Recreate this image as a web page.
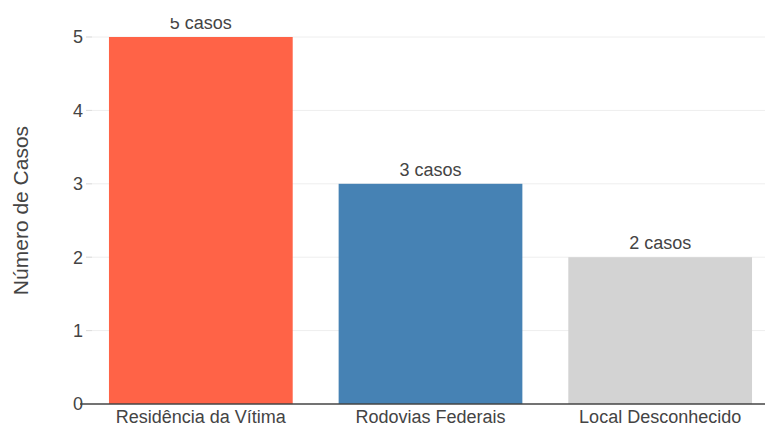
<!DOCTYPE html>
<html>
<head>
<meta charset="utf-8">
<script src="https://cdn.jsdelivr.net/npm/d3@7"></script>
<style>
  body { margin: 0; background: #fff; }
  svg { display: block; font-family: "Liberation Sans", Arial, sans-serif; }
</style>
</head>
<body>
<div id="chart"></div>
<script>
const categories = ["Residência da Vítima", "Rodovias Federais", "Local Desconhecido"];
const values = [5, 3, 2];
const colors = ["#FF6347", "#4682B4", "#D3D3D3"];
const yTicks = [0, 1, 2, 3, 4, 5];

const width = 765;
const height = 425;
const margin = { left: 86, right: -10, top: 37, bottom: 21 };

const svg = d3
  .select("#chart")
  .append("svg")
  .attr("width", width)
  .attr("height", height);

const x = d3
  .scaleBand()
  .domain(categories)
  .range([margin.left, width - margin.right])
  .paddingInner(0.2)
  .paddingOuter(0.1);

const y = d3
  .scaleLinear()
  .domain([0, 5])
  .range([height - margin.bottom, margin.top]);

// grid
svg
  .append("g")
  .selectAll("line")
  .data(yTicks.filter((d) => d > 0))
  .join("line")
  .attr("x1", margin.left)
  .attr("x2", width)
  .attr("y1", (d) => y(d))
  .attr("y2", (d) => y(d))
  .attr("stroke", "#eee")
  .attr("stroke-width", 1);

// bars
svg
  .append("g")
  .selectAll("rect")
  .data(values)
  .join("rect")
  .attr("x", (d, i) => x(categories[i]))
  .attr("y", (d) => y(d))
  .attr("width", x.bandwidth())
  .attr("height", (d) => y(0) - y(d))
  .attr("fill", (d, i) => colors[i]);

// value labels, clipped at the top like the original
svg
  .append("clipPath")
  .attr("id", "top-clip")
  .append("rect")
  .attr("x", 0)
  .attr("y", 18)
  .attr("width", width)
  .attr("height", height);

svg
  .append("g")
  .attr("clip-path", "url(#top-clip)")
  .selectAll("text")
  .data(values)
  .join("text")
  .attr("x", (d, i) => x(categories[i]) + x.bandwidth() / 2)
  .attr("y", (d) => y(d) - 8)
  .attr("text-anchor", "middle")
  .attr("font-size", 18)
  .attr("fill", "#444")
  .text((d) => `${d} casos`);

// zero line
svg
  .append("line")
  .attr("x1", margin.left - 6)
  .attr("x2", width)
  .attr("y1", y(0))
  .attr("y2", y(0))
  .attr("stroke", "#444")
  .attr("stroke-width", 1.5);

// y tick labels
svg
  .append("g")
  .selectAll("text")
  .data(yTicks)
  .join("text")
  .attr("x", margin.left - 3)
  .attr("y", (d) => y(d))
  .attr("dy", "0.36em")
  .attr("text-anchor", "end")
  .attr("font-size", 18)
  .attr("fill", "#444")
  .text((d) => d);

// short tick marks on the gridlines
svg
  .append("g")
  .selectAll("line")
  .data(yTicks.filter((d) => d > 0))
  .join("line")
  .attr("x1", margin.left)
  .attr("x2", margin.left + 6)
  .attr("y1", (d) => y(d))
  .attr("y2", (d) => y(d))
  .attr("stroke", "#ddd");

// x category labels
svg
  .append("g")
  .selectAll("text")
  .data(categories)
  .join("text")
  .attr("x", (d) => x(d) + x.bandwidth() / 2)
  .attr("y", y(0) + 19)
  .attr("text-anchor", "middle")
  .attr("font-size", 18)
  .attr("fill", "#444")
  .text((d) => d);

// y axis title
svg
  .append("text")
  .attr("transform", `translate(28, ${(y(0) + y(5)) / 2 - 10}) rotate(-90)`)
  .attr("text-anchor", "middle")
  .attr("font-size", 21)
  .attr("fill", "#444")
  .text("Número de Casos");
</script>
</body>
</html>
